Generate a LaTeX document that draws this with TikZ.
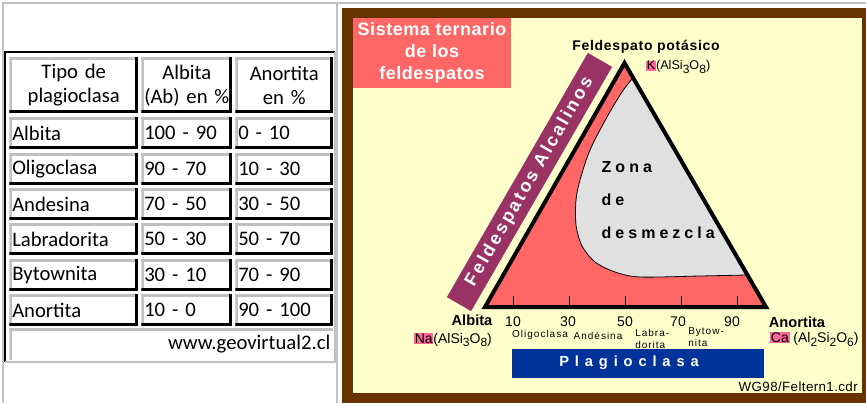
\documentclass[tikz,border=0pt]{standalone}
\usepackage{fontspec}
\setmainfont{Liberation Sans}
\newfontfamily\tabfont{Carlito}
\definecolor{framebrown}{HTML}{663300}
\definecolor{paleyellow}{HTML}{FFFFCC}
\definecolor{salmon}{HTML}{FF6666}
\definecolor{bandpurple}{HTML}{993366}
\definecolor{plagblue}{HTML}{003399}
\definecolor{zonegray}{HTML}{E0E0E0}
\definecolor{ionpink}{HTML}{FF6699}
\definecolor{tabgray}{HTML}{C0C0C0}
\newcommand\lowidx[1]{\raisebox{-.5ex}{\small #1}}
\newcommand\ionmark[1]{{\setlength{\fboxsep}{0.5pt}\colorbox{ionpink}{#1}}}
\newcommand\spaced[1]{\addfontfeature{LetterSpace=#1}}
\begin{document}
\begin{tikzpicture}[x=0.75pt, y=-0.75pt]
\useasboundingbox (0,0) rectangle (866,403);
\tikzstyle{cell} = [anchor=north west, inner xsep=2.25pt, inner ysep=0pt, minimum height=24pt,
  font=\tabfont\fontsize{15.5}{19}\selectfont, align=left,
  path picture={
    \fill[tabgray] (path picture bounding box.north west) rectangle ([yshift=-2.25pt]path picture bounding box.north east);
    \fill[tabgray] (path picture bounding box.north west) rectangle ([xshift=2.25pt]path picture bounding box.south west);
    \fill[black] ([yshift=2.25pt]path picture bounding box.south west) rectangle (path picture bounding box.south east);
    \fill[black] ([xshift=-2.25pt]path picture bounding box.north east) rectangle (path picture bounding box.south east);
  }]
\tikzstyle{col1} = [cell, text width=92.25pt]
\tikzstyle{col2} = [cell, text width=63.75pt]
\tikzstyle{col3} = [cell, text width=69pt]
\tikzstyle{head} = [minimum height=42pt, inner xsep=0pt, align=center, font=\tabfont\fontsize{15.5}{18}\selectfont]
\draw[tabgray, line width=1pt] (3,403) -- (3,3) -- (866,3);
\draw[tabgray, line width=1pt] (337,3) -- (337,403);
\draw[line width=1.5pt] (5,362) -- (5,52) -- (335,52);
\draw[tabgray, line width=1.5pt] (5,362) -- (335,362) -- (335,52);
\node[cell, head, text width=96.75pt] (hdr-tipo) at (9,57) {Tipo de\\plagioclasa};
\node[cell, head, text width=68.25pt] (hdr-ab) at (141,57) {Albita\\(Ab) en \%};
\node[cell, head, text width=73.5pt] (hdr-an) at (235,57) {Anortita\\en \%};
\node[col1] (albita) at (9,117) {Albita};
\node[col2] (albita-ab) at (141,117) {100 - 90};
\node[col3] (albita-an) at (235,117) {0 - 10};
\node[col1] (oligo) at (9,152.5) {Oligoclasa};
\node[col2] (oligo-ab) at (141,152.5) {90 - 70};
\node[col3] (oligo-an) at (235,152.5) {10 - 30};
\node[col1] (andes) at (9,188) {Andesina};
\node[col2] (andes-ab) at (141,188) {70 - 50};
\node[col3] (andes-an) at (235,188) {30 - 50};
\node[col1] (labra) at (9,223) {Labradorita};
\node[col2] (labra-ab) at (141,223) {50 - 30};
\node[col3] (labra-an) at (235,223) {50 - 70};
\node[col1] (bytow) at (9,258.5) {Bytownita};
\node[col2] (bytow-ab) at (141,258.5) {30 - 10};
\node[col3] (bytow-an) at (235,258.5) {70 - 90};
\node[col1] (anort) at (9,294) {Anortita};
\node[col2] (anort-ab) at (141,294) {10 - 0};
\node[col3] (anort-an) at (235,294) {90 - 100};
\node[anchor=north west, inner xsep=2.25pt, inner ysep=0pt, minimum height=24pt, text width=238.5pt, align=right,
  font=\tabfont\fontsize{15.5}{19}\selectfont,
  path picture={
    \fill[tabgray] (path picture bounding box.north west) rectangle ([yshift=-2.25pt]path picture bounding box.north east);
    \fill[tabgray] (path picture bounding box.north west) rectangle ([xshift=2.25pt]path picture bounding box.south west);
  }] (web) at (9,328) {www.geovirtual2.cl};
\fill[framebrown] (342,8) rectangle (866,403);
\fill[paleyellow] (353,18) rectangle (862,393);
\node[anchor=north west, fill=salmon, text=white, align=center, minimum width=113.25pt, minimum height=52.5pt,
  font=\bfseries\fontsize{13.5}{16.5}\selectfont\spaced{3}] (title) at (353,18) {Sistema ternario\\de los\\feldespatos};
\node[fill=bandpurple, rotate=60, minimum width=211.5pt, minimum height=21pt, inner sep=0pt, text=white,
  font=\bfseries\fontsize{13.5}{16}\selectfont\spaced{14}] (alcal) at (529.5,182) {Feldespatos Alcalinos};
\coordinate (ab) at (485,307);
\coordinate (or) at (624.5,63);
\coordinate (an) at (766,307);
\fill[salmon] (ab) -- (or) -- (an) -- cycle;
\fill[zonegray] plot[smooth] coordinates {(747,275) (700,276) (640,277) (615,272) (595,262) (582,246) (576,225) (576,200) (580,180) (590,150) (607,117) (622,92) (632,79)} -- cycle;
\draw[line width=0.6pt] plot[smooth] coordinates {(747,275) (700,276) (640,277) (615,272) (595,262) (582,246) (576,225) (576,200) (580,180) (590,150) (607,117) (622,92) (632,79)};
\coordinate (t10) at (513.1,307);
\coordinate (t30) at (569.2,307);
\coordinate (t50) at (625.5,307);
\coordinate (t70) at (681.7,307);
\coordinate (t90) at (737.9,307);
\draw[line width=0.8pt] (t10) -- ++(0,-11);
\draw[line width=0.8pt] (t30) -- ++(0,-11);
\draw[line width=0.8pt] (t50) -- ++(0,-11);
\draw[line width=0.8pt] (t70) -- ++(0,-11);
\draw[line width=0.8pt] (t90) -- ++(0,-11);
\draw[line width=3pt] (ab) -- (or) -- (an) -- cycle;
\node[align=left, anchor=west, font=\bfseries\fontsize{12}{24.75}\selectfont\spaced{25}] (zona) at (597,200) {Zona\\de\\desmezcla};
\node[font=\bfseries\fontsize{10.5}{12}\selectfont\spaced{5}] (kname) at (646,47) {Feldespato potásico};
\node[anchor=west, inner sep=0pt, font=\fontsize{9.5}{11}\selectfont] (kform) at (646,67) {\ionmark{K}(AlSi\lowidx{3}O\lowidx{8})};
\node[font=\bfseries\fontsize{11}{13}\selectfont] (naname) at (472,320) {Albita};
\node[inner sep=0pt, font=\fontsize{10.5}{12}\selectfont] (naform) at (453,340) {\ionmark{Na}(AlSi\lowidx{3}O\lowidx{8})};
\node[font=\bfseries\fontsize{11}{13}\selectfont] (caname) at (797,322) {Anortita};
\node[anchor=west, inner sep=0pt, font=\fontsize{10.5}{12}\selectfont] (caform) at (770,339) {\ionmark{Ca} (Al\lowidx{2}Si\lowidx{2}O\lowidx{6})};
\tikzstyle{every node} = [font=\fontsize{10.5}{12}\selectfont, inner sep=0pt]
\node (l10) at (513,322) {10};
\node (l30) at (568,322) {30};
\node (l50) at (625,322) {50};
\node (l70) at (678,322) {70};
\node (l90) at (732,322) {90};
\tikzstyle{every node} = [font=\fontsize{7.5}{9.5}\selectfont\spaced{10}, inner sep=0pt]
\node (oligo-d) at (540,335) {Oligoclasa};
\node (andes-d) at (598,336) {Andésina};
\node[anchor=west, align=left] (labra-d) at (635,339) {Labra-\\dorita};
\node[anchor=west, align=left] (bytow-d) at (688,337) {Bytow-\\nita};
\tikzstyle{every node} = []
\fill[plagblue] (512,349) rectangle (764,378);
\node[text=white, font=\bfseries\fontsize{11}{13}\selectfont\spaced{40}] (plag) at (629,363) {Plagioclasa};
\node[anchor=east, inner sep=0pt, font=\fontsize{10}{12}\selectfont\spaced{3}] (file) at (858,387) {WG98/Feltern1.cdr};
\end{tikzpicture}
\end{document}
